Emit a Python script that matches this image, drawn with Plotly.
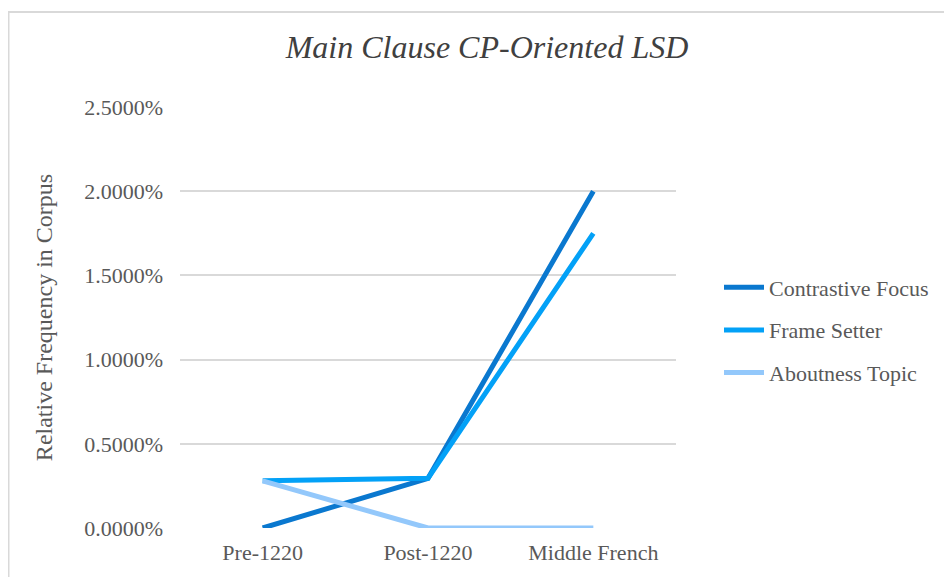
import plotly.graph_objects as go

categories = ["Pre-1220", "Post-1220", "Middle French"]
contrastive_focus = [0.0, 0.295, 2.0]
frame_setter = [0.28, 0.295, 1.75]
aboutness_topic = [0.28, 0.0, 0.0]
y_ticks = [0.0, 0.5, 1.0, 1.5, 2.0, 2.5]
y_tick_labels = [f"{v:.4f}%" for v in y_ticks]

series = [
    ("Contrastive Focus", contrastive_focus, "#0A78CF"),
    ("Frame Setter", frame_setter, "#03A1F7"),
    ("Aboutness Topic", aboutness_topic, "#93C8FB"),
]

FONT = "Liberation Serif"
GRAY = "#595959"

# page has an 8px body margin; figure is offset by (8, 8)
W, H = 944, 569
L, T, R, B = 172, 99, 276, 49
PW, PH = W - L - R, H - T - B

fig = go.Figure()
for i, (name, vals, col) in enumerate(series):
    fig.add_trace(go.Scatter(
        x=categories, y=vals, name=name, mode="lines",
        line=dict(color=col, width=5),
        legendgroup=f"g{i}",
    ))

fig.update_layout(
    width=W, height=H,
    margin=dict(l=L, r=R, t=T, b=B),
    paper_bgcolor="white", plot_bgcolor="white",
    font=dict(family=FONT, color=GRAY, size=22),
    title=dict(text="<i>Main Clause CP-Oriented LSD</i>", x=(487 - 8) / W, xanchor="center",
               y=1 - (47 - 8) / H, yanchor="middle",
               font=dict(family=FONT, size=32, color="#404040")),
    showlegend=True,
    legend=dict(x=(719 - 8 - L) / PW, xanchor="left", y=(H - B - (330 - 8)) / PH, yanchor="middle",
                font=dict(family=FONT, size=22, color=GRAY),
                tracegroupgap=11, itemwidth=40, bgcolor="rgba(0,0,0,0)"),
    xaxis=dict(showgrid=False, showline=False, ticks="", tickfont=dict(size=22),
               range=[-0.5, 2.5], ticklabelstandoff=9),
    yaxis=dict(range=[0, 2.5], tickvals=y_ticks, ticktext=y_tick_labels,
               showgrid=True, gridcolor="#D9D9D9", gridwidth=1.5, zeroline=False,
               showline=False, ticks="", ticklabelstandoff=16,
               title=dict(text="Relative Frequency in Corpus", font=dict(size=24), standoff=24)),
    shapes=[dict(type="rect", xref="paper", yref="paper",
                 x0=(0.5 - L) / PW, x1=(990 - L) / PW,
                 y0=(H - B - 620) / PH, y1=(H - B - 4) / PH,
                 line=dict(color="#D9D9D9", width=2), layer="below")],
)

fig.write_html("out.html")
